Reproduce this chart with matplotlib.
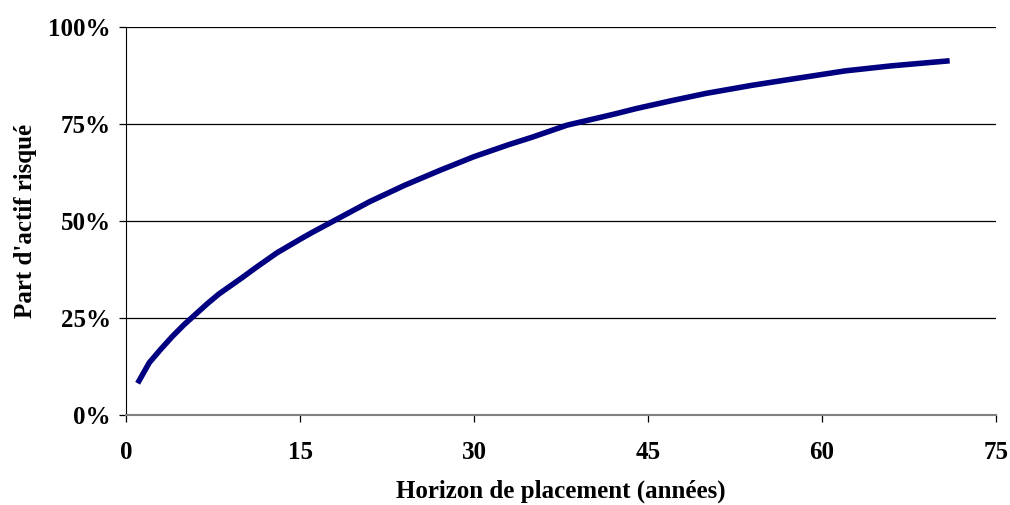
import matplotlib.pyplot as plt
from matplotlib.ticker import FuncFormatter

# horizon (années) et part d'actif risqué (%)
horizon = [1, 2, 3, 4, 5, 6, 7, 8, 9, 10, 11, 12, 13, 15, 16, 18, 21, 24,
           27, 30, 33, 35, 38, 42, 44, 47, 50, 54, 57, 62, 66, 71]
part_risque = [8.2, 13.5, 17.0, 20.3, 23.3, 26.0, 28.7, 31.2, 33.3, 35.4,
               37.6, 39.7, 41.8, 45.3, 47.0, 50.2, 55.0, 59.2, 63.0, 66.6,
               69.7, 71.6, 74.7, 77.5, 79.0, 81.0, 82.9, 85.0, 86.4, 88.7,
               90.0, 91.3]

x_ticks = [0, 15, 30, 45, 60, 75]
y_ticks = [0, 25, 50, 75, 100]

plt.rcParams['font.family'] = ['Liberation Serif', 'DejaVu Serif']
plt.rcParams['font.weight'] = 'bold'

fig = plt.figure(figsize=(10.1, 5.05), dpi=100)
ax = fig.add_axes([0.1248, 0.178, 0.8614, 0.7685])

ax.plot(horizon, part_risque, color='#000080', lw=4, solid_capstyle='butt',
        solid_joinstyle='round')

ax.set_xlim(0, 75)
ax.set_ylim(0, 100)
ax.set_xticks(x_ticks)
ax.set_yticks(y_ticks)
ax.yaxis.set_major_formatter(FuncFormatter(lambda v, p: '%d%%' % v))
ax.grid(axis='y', color='black', lw=0.9)
ax.set_axisbelow(True)

for s in ['top', 'right']:
    ax.spines[s].set_visible(False)
ax.spines['left'].set_color('black')
ax.spines['bottom'].set_color('#808080')
ax.spines['bottom'].set_linewidth(1.5)

ax.tick_params(axis='both', labelsize=18, length=5, direction='out', width=0.9)
ax.tick_params(axis='x', pad=14)
ax.tick_params(axis='y', pad=6)
for lab in ax.get_xticklabels() + ax.get_yticklabels():
    lab.set_fontweight('bold')

ax.set_xlabel('Horizon de placement (années)', fontsize=18, fontweight='bold', labelpad=11)
ax.set_ylabel("Part d'actif risqué", fontsize=18, fontweight='bold', labelpad=8)

fig.savefig('out.png', dpi=100)
